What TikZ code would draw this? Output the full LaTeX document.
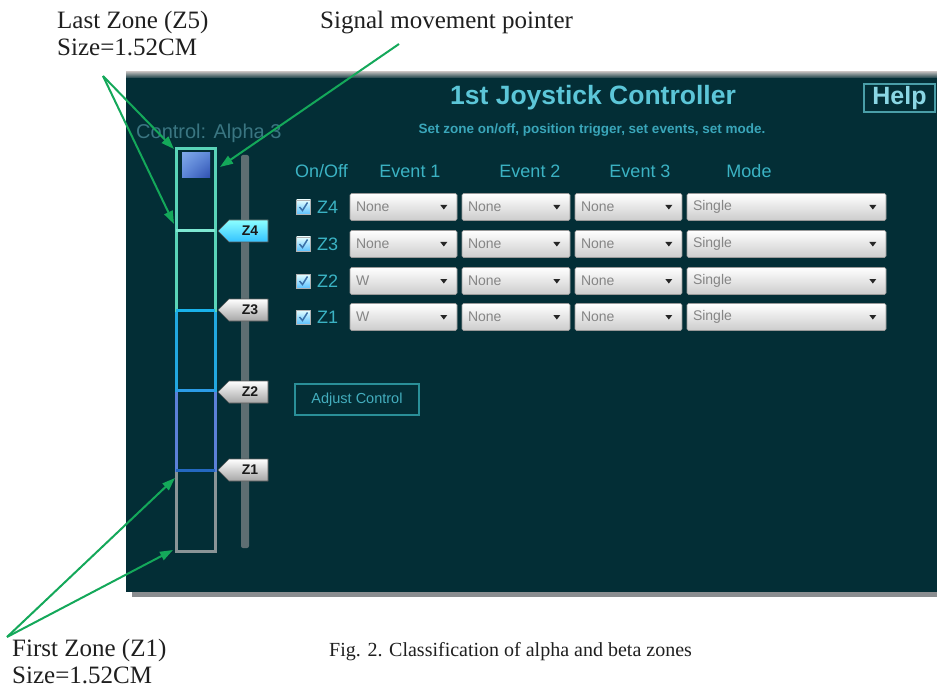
\documentclass[tikz,border=0pt]{standalone}
\usepackage{fontspec}
\setmainfont{Liberation Serif}
\newfontfamily\uifont{Liberation Sans}
\usetikzlibrary{arrows.meta,calc,shadings}

\definecolor{panel}{HTML}{032E36}
\definecolor{panelshadow}{HTML}{8A8D90}
\definecolor{callgreen}{HTML}{14A85A}
\definecolor{titlecyan}{HTML}{5CC6D8}
\definecolor{subcyan}{HTML}{3AA6BA}
\definecolor{headcyan}{HTML}{3BB3C4}
\definecolor{ctrlgrey}{HTML}{3A7682}
\definecolor{helpline}{HTML}{4A9EA8}
\definecolor{helptext}{HTML}{8AD6E4}
\definecolor{btnline}{HTML}{2A8F98}
\definecolor{btntext}{HTML}{44AEBE}
\definecolor{zmint}{HTML}{5AD4B8}
\definecolor{zmintbright}{HTML}{7EE8D2}
\definecolor{zcyan}{HTML}{22A8E0}
\definecolor{zcyanbright}{HTML}{19B2EA}
\definecolor{zblue}{HTML}{2C9CE6}
\definecolor{zperi}{HTML}{5C80D8}
\definecolor{zdeep}{HTML}{2468C0}
\definecolor{zgray}{HTML}{8A9496}
\definecolor{track}{HTML}{5E6E72}
\definecolor{ddtext}{HTML}{858585}
\definecolor{checkblue}{HTML}{3A70A8}
\definecolor{mkA}{HTML}{7FA8E8}
\definecolor{mkB}{HTML}{2E4FB0}
\definecolor{mkC}{HTML}{5C86D8}

\tikzset{
  annot/.style={font=\fontsize{25}{27}\selectfont, anchor=base west, inner sep=0pt, text=black!88},
  caption/.style={font=\fontsize{20}{22}\selectfont, anchor=base west, inner sep=0pt, text=black!88},
  callout/.style={draw=callgreen, line width=2pt, -{Triangle[length=13pt,width=9pt]}},
  header/.style={font=\uifont\fontsize{18}{20}\selectfont, text=headcyan, inner sep=0pt},
  rowlabel/.style={font=\uifont\fontsize{18}{20}\selectfont, text=headcyan, inner sep=0pt, anchor=west},
  dropbox/.style={draw=black!40, line width=0.6pt, rounded corners=1.5pt,
    top color=white, bottom color=black!20, minimum height=27pt,
    font=\uifont\fontsize{14}{16}\selectfont, text=ddtext, align=left, inner xsep=6pt},
  checkbox/.style={draw=white!70!black, line width=0.6pt, minimum size=14pt, inner sep=0pt,
    top color=white!90!cyan, bottom color=white!60!blue!60!cyan},
  zoneseg/.style={line width=3pt},
  zonetagfill/.style={draw=black!65, line width=0.6pt, top color=white, bottom color=black!35},
  zonetagtext/.style={font=\uifont\bfseries\fontsize{14}{16}\selectfont, text=black!90, inner sep=0pt},
}

\begin{document}
\begin{tikzpicture}[x=1pt,y=-1pt]
\useasboundingbox (0,0) rectangle (937,687);

% --- control panel window -------------------------------------------------
\fill[panelshadow] (132,591) rectangle (937,597);
\shade[top color=black!30, bottom color=panel] (126,72) rectangle (937,79);
\fill[panel] (126,78) rectangle (937,592);

% title, subtitle, help button
\node[font=\uifont\bfseries\fontsize{26.5}{29}\selectfont, text=titlecyan, inner sep=0pt] (title) at (593,98) {1st Joystick Controller};
\node[font=\uifont\bfseries\fontsize{13.5}{15}\selectfont, text=subcyan, inner sep=0pt] (subtitle) at (592,130) {Set zone on/off, position trigger, set events, set mode.};
\node[draw=helpline, line width=2pt, minimum width=71pt, minimum height=28pt, inner sep=0pt,
      font=\uifont\bfseries\fontsize{25}{27}\selectfont, text=helptext] (help) at (899.5,98) {Help};
\node[font=\uifont\fontsize{20}{22}\selectfont, text=ctrlgrey, inner sep=0pt, anchor=west] (ctrl) at (136,133) {Control: Alpha 3};

% slider track
\fill[track, rounded corners=2pt] (241,155) rectangle (249,548);

% zone bar, bottom to top
\draw[zoneseg, draw=zgray] (176,470) rectangle (215,551);
\draw[zoneseg, draw=zperi] (176,390) rectangle (215,470);
\draw[zoneseg, draw=zcyan] (176,310) rectangle (215,390);
\draw[zoneseg, draw=zmint] (176,231) rectangle (215,310);
\draw[zoneseg, draw=zmint] (176,149) rectangle (215,231);
\draw[zoneseg, draw=zdeep] (176,470) -- (215,470);
\draw[zoneseg, draw=zblue] (176,390) -- (215,390);
\draw[zoneseg, draw=zcyanbright] (176,310) -- (215,310);
\draw[zoneseg, draw=zmintbright] (176,231) -- (215,231);

% signal position marker
\shade[upper left=mkA, lower right=mkB, upper right=mkC, lower left=mkC]
  (182,153) rectangle (210,178);

% zone trigger tags
\foreach \z/\yc/\tc/\bc in {4/231/white!55!cyan/cyan!70!blue!80, 3/310/white/black!35, 2/392/white/black!35, 1/470/white/black!35} {
  \path[zonetagfill, top color=\tc, bottom color=\bc]
    (218,\yc) -- (229,\yc-11) -- (268,\yc-11) -- (268,\yc+11) -- (229,\yc+11) -- cycle;
  \node[zonetagtext] (tag\z) at (250,\yc) {Z\z};
}

% table header
\node[header] (hOnOff) at (321.5,171) {On/Off};
\node[header] (hEv1) at (410,171) {Event 1};
\node[header] (hEv2) at (530,171) {Event 2};
\node[header] (hEv3) at (640,171) {Event 3};
\node[header] (hMode) at (749,171) {Mode};

% table rows
\foreach \z/\yc/\ea/\eb/\ec in {4/207/None/None/None, 3/244/None/None/None, 2/281/W/None/None, 1/317/W/None/None} {
  \node[checkbox] (cb\z) at (303.5,\yc) {};
  \draw[checkblue, line width=1.5pt] ($(cb\z.center)+(-4,0)$) -- ++(3,3.5) -- ++(5,-8);
  \node[rowlabel] (rl\z) at (317,\yc) {Z\z};
  \node[dropbox, minimum width=107pt, text width=95pt] (ea\z) at (403.5,\yc) {\ea};
  \node[dropbox, minimum width=108pt, text width=96pt] (eb\z) at (516,\yc) {\eb};
  \node[dropbox, minimum width=107pt, text width=95pt] (ec\z) at (628.5,\yc) {\ec};
  \node[dropbox, minimum width=199pt, text width=187pt] (md\z) at (786.5,\yc) {Single};
  \foreach \n in {ea,eb,ec,md} {
    \fill[black!85] ($(\n\z.east)+(-17,-2)$) -- ++(7,0) -- ++(-3.5,4.5) -- cycle;
  }
}

% adjust button
\node[draw=btnline, line width=1.5pt, minimum width=124pt, minimum height=31pt, inner sep=0pt,
      font=\uifont\fontsize{14.5}{16}\selectfont, text=btntext] (adjust) at (357,399.5) {Adjust Control};

% --- annotations ----------------------------------------------------------
\node[annot] (lastA) at (57,29) {Last Zone (Z5)};
\node[annot] (lastB) at (57,56) {Size=1.52CM};
\node[annot] (sigT) at (320,29) {Signal movement pointer};
\node[annot] (firstA) at (12,656) {First Zone (Z1)};
\node[annot] (firstB) at (12,683) {Size=1.52CM};
\node[caption] (fig) at (329,656) {Fig. 2. Classification of alpha and beta zones};

\coordinate (lastFoot) at (103,76);
\coordinate (sigFoot) at (399,44);
\coordinate (firstFoot) at (7,637);
\coordinate (z5top) at (174,149);
\coordinate (z5bot) at (174,224);
\coordinate (marker) at (220,167);
\coordinate (z1top) at (175,478);
\coordinate (z1bot) at (173,550);

\draw[callout] (lastFoot) -- (z5top);
\draw[callout] (lastFoot) -- (z5bot);
\draw[callout] (sigFoot) -- (marker);
\draw[callout] (firstFoot) -- (z1top);
\draw[callout] (firstFoot) -- (z1bot);
\end{tikzpicture}
\end{document}
